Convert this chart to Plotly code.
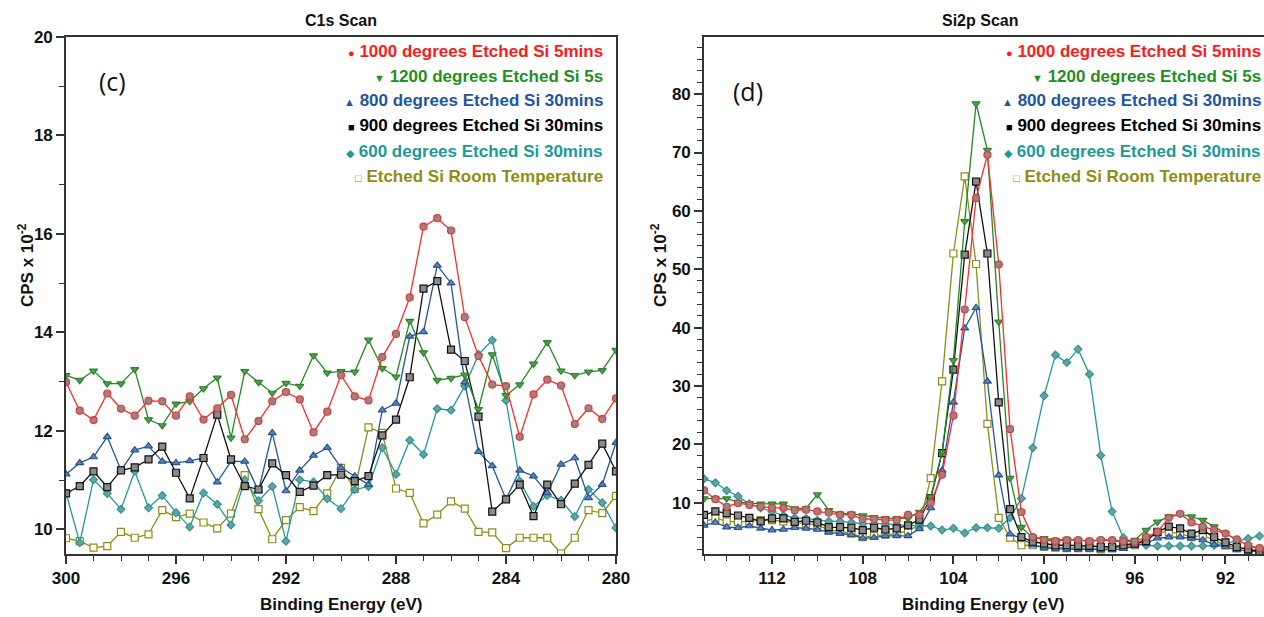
import plotly.graph_objects as go
from plotly.subplots import make_subplots

# ---------------- C1s scan (left) ----------------
c1s_energy = [300.0, 299.5, 299.0, 298.5, 298.0, 297.5, 297.0, 296.5, 296.0, 295.5,
              295.0, 294.5, 294.0, 293.5, 293.0, 292.5, 292.0, 291.5, 291.0, 290.5,
              290.0, 289.5, 289.0, 288.5, 288.0, 287.5, 287.0, 286.5, 286.0, 285.5,
              285.0, 284.5, 284.0, 283.5, 283.0, 282.5, 282.0, 281.5, 281.0, 280.5, 280.0]

c1s_1000 = [12.99, 12.41, 12.22, 12.76, 12.45, 12.31, 12.61, 12.60, 12.31, 12.70, 12.23, 12.46,
            12.73, 11.83, 12.20, 12.60, 12.79, 12.64, 11.97, 12.39, 13.13, 12.70, 12.62, 13.50,
            13.97, 14.71, 16.15, 16.32, 16.07, 14.31, 13.52, 12.94, 12.91, 11.88, 12.74, 13.04,
            12.92, 12.14, 12.46, 12.24, 12.66]
c1s_1200 = [13.13, 13.03, 13.22, 12.96, 12.96, 13.25, 12.23, 12.11, 12.55, 12.60, 12.86, 13.08,
            11.86, 13.21, 12.99, 12.77, 12.97, 12.91, 13.53, 13.18, 13.21, 13.20, 13.85, 13.27,
            13.10, 14.23, 13.59, 13.03, 13.07, 13.14, 12.44, 13.55, 12.72, 12.94, 13.36, 13.80,
            13.22, 13.13, 13.20, 13.23, 13.64]
c1s_800 = [11.12, 11.35, 11.47, 11.88, 11.20, 11.61, 11.69, 11.38, 11.35, 11.39, 11.45, 10.96,
           11.38, 11.38, 10.78, 11.96, 10.78, 11.20, 11.50, 11.66, 11.25, 11.08, 10.91, 12.42,
           12.56, 13.92, 14.01, 15.36, 15.00, 12.99, 11.58, 11.29, 10.61, 11.20, 11.08, 10.74,
           11.32, 11.45, 10.64, 10.91, 11.76]
c1s_900 = [10.73, 10.88, 11.18, 10.86, 11.20, 11.26, 11.42, 11.68, 11.15, 10.63, 11.45, 12.33,
           11.42, 10.88, 10.81, 11.34, 11.10, 10.76, 10.89, 11.10, 11.11, 10.98, 11.08, 11.91,
           12.23, 13.09, 14.89, 15.04, 13.65, 13.42, 12.29, 10.36, 10.61, 10.91, 10.27, 10.91,
           10.51, 10.93, 11.31, 11.74, 11.18]
c1s_600 = [10.74, 9.73, 11.01, 10.73, 10.41, 11.18, 10.44, 10.69, 10.34, 10.05, 10.74, 10.51,
           10.09, 11.01, 10.58, 10.87, 9.76, 11.01, 10.96, 10.62, 10.42, 10.81, 10.87, 11.66,
           11.12, 11.81, 11.52, 12.45, 12.42, 12.91, 13.55, 13.84, 12.62, 10.98, 10.47, 10.69,
           10.59, 10.26, 10.81, 10.54, 10.03]
c1s_rt = [9.82, 9.76, 9.63, 9.66, 9.95, 9.83, 9.90, 10.39, 10.25, 10.32, 10.14, 10.02,
          10.32, 11.10, 10.41, 9.80, 10.19, 10.45, 10.37, 10.73, 11.25, 10.82, 12.07, 11.96,
          10.83, 10.74, 10.12, 10.30, 10.57, 10.42, 9.95, 9.94, 9.62, 9.83, 9.83, 9.83,
          9.51, 9.83, 10.39, 10.33, 10.68]

# ---------------- Si2p scan (right) ----------------
si_energy = [115.0, 114.5, 114.0, 113.5, 113.0, 112.5, 112.0, 111.5, 111.0, 110.5,
             110.0, 109.5, 109.0, 108.5, 108.0, 107.5, 107.0, 106.5, 106.0, 105.5,
             105.0, 104.5, 104.0, 103.5, 103.0, 102.5, 102.0, 101.5, 101.0, 100.5,
             100.0, 99.5, 99.0, 98.5, 98.0, 97.5, 97.0, 96.5, 96.0, 95.5,
             95.0, 94.5, 94.0, 93.5, 93.0, 92.5, 92.0, 91.5, 91.0, 90.5]

si_1000 = [12.1, 10.6, 9.3, 9.9, 9.6, 9.3, 9.1, 9.1, 8.7, 8.8, 8.5, 8.3, 7.9, 7.9, 7.2, 7.2, 7.0, 7.0,
           7.9, 7.9, 10.0, 14.8, 24.9, 43.1, 62.2, 69.6, 50.8, 22.6, 8.4, 4.1, 3.6, 3.4, 3.6, 3.6,
           3.4, 3.6, 3.6, 3.4, 3.3, 4.1, 5.0, 7.4, 8.1, 6.6, 5.9, 5.3, 4.7, 3.7, 2.7, 2.2]
si_1200 = [10.7, 10.7, 10.7, 10.1, 9.9, 9.8, 9.8, 9.8, 9.0, 9.0, 11.4, 8.7, 8.1, 8.1, 7.8, 7.5, 7.3, 7.3,
           7.3, 8.4, 11.0, 18.6, 34.4, 58.2, 78.4, 70.4, 41.0, 14.2, 5.8, 4.0, 3.9, 3.6, 3.7, 3.6,
           3.4, 3.6, 3.4, 3.3, 3.6, 5.3, 6.7, 7.6, 8.1, 7.6, 7.0, 5.9, 4.7, 3.6, 2.7, 2.0]
si_800 = [6.1, 6.6, 5.8, 5.7, 6.0, 5.6, 5.3, 5.4, 5.7, 5.6, 5.4, 4.9, 4.7, 4.5, 3.9, 4.0, 4.3, 4.3,
          4.3, 5.5, 9.1, 15.5, 27.2, 39.9, 43.4, 30.8, 14.7, 4.6, 3.9, 2.7, 2.3, 2.1, 2.0, 2.0,
          2.0, 1.9, 1.9, 2.1, 2.6, 3.0, 3.9, 4.1, 4.1, 3.9, 3.6, 2.8, 2.4, 1.9, 1.7, 1.6]
si_900 = [7.9, 8.5, 8.2, 7.8, 7.4, 6.8, 7.3, 7.3, 6.7, 6.9, 6.6, 5.8, 5.8, 5.7, 5.3, 5.7, 5.4, 5.6,
          6.1, 7.1, 10.8, 18.5, 32.8, 52.5, 65.0, 52.7, 27.2, 8.9, 4.1, 3.3, 3.0, 2.7, 2.7, 2.6,
          2.6, 2.4, 2.4, 2.7, 3.0, 3.4, 5.0, 5.9, 5.6, 4.7, 5.3, 4.1, 3.2, 2.4, 2.0, 1.7]
si_600 = [14.1, 13.4, 12.1, 11.1, 9.8, 9.1, 8.5, 7.8, 7.4, 7.3, 7.0, 6.8, 6.8, 6.6, 6.4, 6.4, 6.4, 6.2,
          6.1, 6.0, 6.0, 5.3, 5.6, 4.8, 5.7, 5.7, 5.6, 7.4, 10.7, 19.4, 28.3, 35.3, 34.0, 36.3,
          32.0, 18.1, 8.5, 4.0, 3.1, 2.7, 2.55, 2.55, 2.55, 2.55, 2.55, 2.7, 3.0, 3.4, 3.85, 4.3]
si_rt = [6.7, 7.4, 6.8, 6.7, 6.8, 7.0, 7.0, 6.8, 6.6, 6.4, 6.2, 5.3, 5.1, 4.7, 4.1, 4.3, 4.5, 4.7,
         5.2, 6.1, 14.2, 30.8, 52.7, 65.9, 50.9, 23.5, 7.4, 4.0, 2.7, 2.7, 2.4, 2.3, 2.2, 2.2,
         2.2, 2.0, 2.2, 2.4, 2.7, 3.9, 4.9, 5.0, 4.7, 4.1, 4.4, 3.6, 2.7, 2.2, 1.9, 1.7]

series_names = ["1000 degrees Etched Si 5mins", "1200 degrees Etched Si 5s",
                "800 degrees Etched Si 30mins", "900 degrees Etched Si 30mins",
                "600 degrees Etched Si 30mins", "Etched Si Room Temperature"]
line_colors = ["#ff2a2a", "#1e8c1e", "#1f559e", "#111111", "#1f9a9a", "#8e8e14"]
text_colors = ["#ff1a1a", "#1f8f1f", "#1f55a0", "#000000", "#1a9a9a", "#8e8e12"]
fill_colors = ["#8a8a8a", "#6f8a6f", "#6f7f9a", "#8a8a8a", "#7a9a9a", "#ffffff"]
symbols = ["circle", "triangle-down", "triangle-up", "square", "diamond", "square"]
glyphs = ["●", "▼", "▲", "■", "◆", "□"]

c1s_series = [c1s_1000, c1s_1200, c1s_800, c1s_900, c1s_600, c1s_rt]
si_series = [si_1000, si_1200, si_800, si_900, si_600, si_rt]

W, H = 1264, 617
left_dom = [66 / W, 616 / W]
right_dom = [704 / W, 1.0]
y_dom = [1 - 554 / H, 1 - 37 / H]

fig = make_subplots(rows=1, cols=2)

order = [5, 4, 2, 3, 1, 0]
for col, xs, data in [(1, c1s_energy, c1s_series), (2, si_energy, si_series)]:
    for k in order:
        fig.add_trace(go.Scatter(
            x=xs, y=data[k], mode="lines+markers", name=series_names[k],
            showlegend=False,
            line=dict(color=line_colors[k], width=1.3),
            marker=dict(symbol=symbols[k], size=7 if k != 4 else 6,
                        color=fill_colors[k], line=dict(color=line_colors[k], width=1.2)),
        ), row=1, col=col)

tickfont = dict(family="Liberation Sans", size=17, color="#111111")
axis_common = dict(showline=True, linecolor="#333333", linewidth=1.6, mirror=True,
                   ticks="outside", ticklen=8, tickwidth=1.5, tickcolor="#333333",
                   showgrid=False, zeroline=False, tickfont=tickfont, automargin=False,
                   tickprefix="<b>", ticksuffix="</b>")
minor_common = dict(ticks="outside", ticklen=5, tickwidth=1.3, tickcolor="#333333")

fig.update_xaxes(domain=left_dom, range=[300, 280], tick0=300, dtick=4,
                 minor=dict(dtick=1, **minor_common), **axis_common, row=1, col=1)
fig.update_yaxes(domain=y_dom, range=[9.5, 20], tick0=10, dtick=2,
                 minor=dict(dtick=1, **minor_common), **axis_common, row=1, col=1)
fig.update_xaxes(domain=right_dom, range=[115, 90.3], tick0=112, dtick=4,
                 minor=dict(dtick=1, **minor_common), **axis_common, row=1, col=2)
fig.update_yaxes(domain=y_dom, range=[1.2, 89.8], tick0=10, dtick=10,
                 minor=dict(tick0=0, dtick=2, **minor_common), **axis_common, row=1, col=2)

annotations = []
def pa(x, y, text, size, xanchor="center", color="#111111", angle=0, family="Liberation Sans"):
    annotations.append(dict(x=x / W, y=1 - y / H, xref="paper", yref="paper", text=text,
                            showarrow=False, xanchor=xanchor, yanchor="middle", textangle=angle,
                            font=dict(family=family, size=size, color=color)))

# titles
pa(341, 21, "<b>C1s Scan</b>", 16)
pa(980, 21, "<b>Si2p Scan</b>", 16)
# x titles
pa(341, 604, "<b>Binding Energy (eV)</b>", 17)
pa(983, 604, "<b>Binding Energy (eV)</b>", 17)
# y titles
pa(26, 265, "<b>CPS x 10<sup>-2</sup></b>", 17, angle=-90)
pa(659, 265, "<b>CPS x 10<sup>-2</sup></b>", 17, angle=-90)
# panel labels
pa(112, 81, "(c)", 25, family="Open Sans")
pa(748, 91, "(d)", 25, family="Open Sans")

# legends
legend_rows = [52, 77, 101, 126, 151, 176]
for right_edge in [605, 1263]:
    for k in range(6):
        txt = ('<span style="font-size:11px">%s</span> <b>%s</b>' % (glyphs[k], series_names[k]))
        pa(right_edge, legend_rows[k], txt, 17, xanchor="right", color=text_colors[k])

fig.update_layout(width=W, height=H, margin=dict(l=0, r=0, t=0, b=0),
                  plot_bgcolor="white", paper_bgcolor="white",
                  annotations=annotations, showlegend=False)

fig.write_html("out.html", config={"displayModeBar": False},
               post_script="document.body.style.margin='0';")
